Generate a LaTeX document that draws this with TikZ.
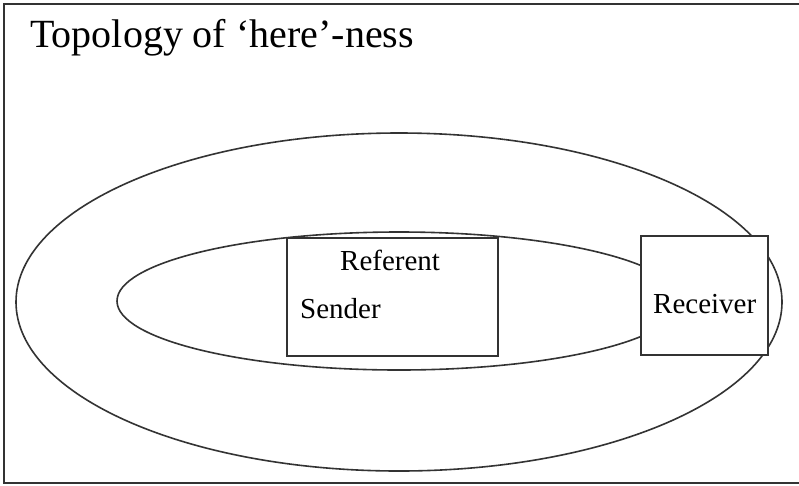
\documentclass[tikz,border=0pt]{standalone}
\usepackage{fontspec}
\setmainfont{Liberation Serif}
\usetikzlibrary{shapes.geometric}
\definecolor{ink}{HTML}{333333}
\tikzset{
  ring/.style={draw=ink, line width=1.6pt, ellipse, inner sep=0pt},
  boxnode/.style={draw=ink, line width=1.6pt, fill=white, rectangle, inner sep=0pt, anchor=north west},
  lbl/.style={anchor=base west, inner sep=0pt, text=black, font=\fontsize{29}{32}\selectfont},
}
\begin{document}
\begin{tikzpicture}[x=1pt,y=-1pt]
\useasboundingbox (0,0) rectangle (799,485);
\fill[white] (0,0) rectangle (799,485);
\draw[ink, line width=1.6pt] (799,4) -- (4,4) -- (4,483) -- (799,483);
\node[anchor=base west, inner sep=0pt, font=\fontsize{40}{44}\selectfont] (title) at (30,47) {Topology of ‘here’-ness};
\node[ring, minimum width=766pt, minimum height=338pt] (outer) at (399,302) {};
\node[ring, minimum width=564pt, minimum height=138pt] (inner) at (399,301) {};
\node[boxnode, minimum width=211pt, minimum height=118pt] (sbox) at (286,237) {};
\node[boxnode, minimum width=127pt, minimum height=119pt] (rbox) at (640,235) {};
\node[lbl] (ref) at (340,270) {Referent};
\node[lbl] (snd) at (300,318) {Sender};
\node[lbl] (rcv) at (653,313) {Receiver};
\end{tikzpicture}
\end{document}
